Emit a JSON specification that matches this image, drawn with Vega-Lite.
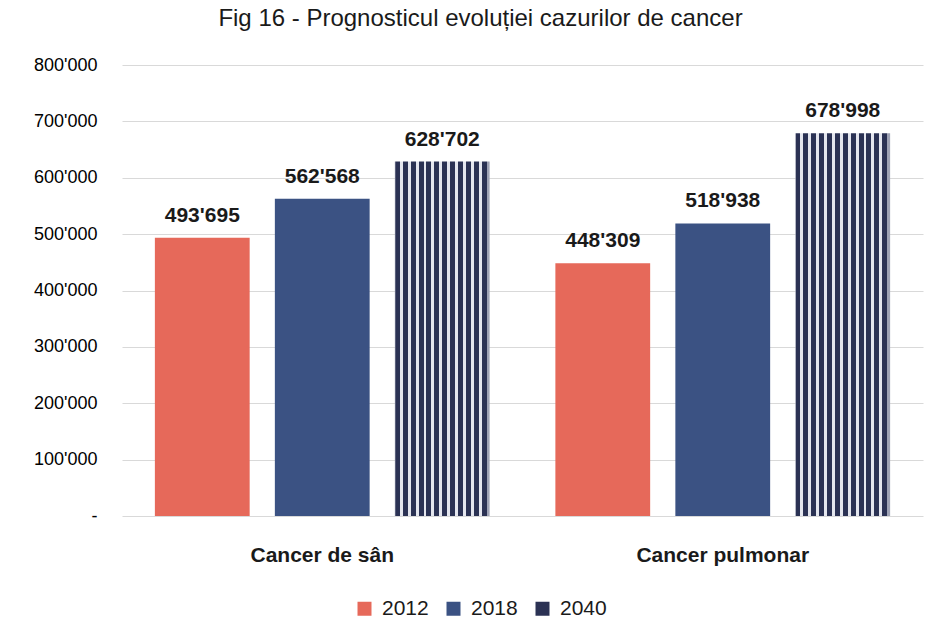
{
  "$schema": "https://vega.github.io/schema/vega-lite/v6.json",
  "autosize": {"type": "none"},
  "width": 801,
  "height": 451,
  "padding": {"left": 122, "top": 65, "right": 3, "bottom": 103},
  "background": "white",
  "title": {
    "text": "Fig 16 - Prognosticul evoluției cazurilor de cancer",
    "font": "Liberation Sans",
    "fontSize": 24,
    "fontWeight": "normal",
    "color": "#1a1a1a",
    "anchor": "middle",
    "baseline": "alphabetic",
    "offset": 6,
    "dx": -42
  },
  "data": {
    "values": [
      {"cat": "Cancer de sân", "year": "2012", "value": 493695},
      {"cat": "Cancer de sân", "year": "2018", "value": 562568},
      {"cat": "Cancer de sân", "year": "2040", "value": 628702},
      {"cat": "Cancer pulmonar", "year": "2012", "value": 448309},
      {"cat": "Cancer pulmonar", "year": "2018", "value": 518938},
      {"cat": "Cancer pulmonar", "year": "2040", "value": 678998}
    ]
  },
  "encoding": {
    "x": {
      "field": "cat",
      "type": "nominal",
      "sort": null,
      "scale": {"paddingInner": 0, "paddingOuter": 0},
      "axis": {
        "title": null,
        "labelAngle": 0,
        "domain": false,
        "ticks": false,
        "labelFont": "Liberation Sans",
        "labelFontSize": 21,
        "labelFontWeight": "bold",
        "labelColor": "#1a1a1a",
        "labelPadding": 28,
        "labelBaseline": "top"
      }
    },
    "xOffset": {
      "field": "year",
      "type": "nominal",
      "scale": {"paddingInner": 0.21, "paddingOuter": 0.274}
    },
    "y": {
      "field": "value",
      "type": "quantitative",
      "scale": {"domain": [0, 800000], "nice": false},
      "axis": {
        "title": null,
        "values": [0, 100000, 200000, 300000, 400000, 500000, 600000, 700000, 800000],
        "format": ",d",
        "labelExpr": "datum.value === 0 ? '-' : datum.label",
        "domain": false,
        "ticks": false,
        "gridColor": "#D9D9D9",
        "gridWidth": 1,
        "labelFont": "Liberation Sans",
        "labelFontSize": 18,
        "labelColor": "#000000",
        "labelPadding": 25
      }
    }
  },
  "layer": [
    {
      "mark": {"type": "bar"},
      "encoding": {
        "color": {
          "field": "year",
          "type": "nominal",
          "scale": {"domain": ["2012", "2018", "2040"], "range": ["#E6695A", "#3B5283", "#2B3254"]},
          "condition": {
            "test": "datum.year === '2040'",
            "value": {
              "gradient": "linear",
              "x1": 0, "y1": 0, "x2": 1, "y2": 0,
              "stops": [
                {"offset": 0, "color": "#9EA2B4"},
                {"offset": 0.012, "color": "#2B3254"},
                {"offset": 0.053, "color": "#2B3254"},
                {"offset": 0.053, "color": "#E4E6EE"},
                {"offset": 0.0833, "color": "#E4E6EE"},
                {"offset": 0.0833, "color": "#2B3254"},
                {"offset": 0.1367, "color": "#2B3254"},
                {"offset": 0.1367, "color": "#E4E6EE"},
                {"offset": 0.1667, "color": "#E4E6EE"},
                {"offset": 0.1667, "color": "#2B3254"},
                {"offset": 0.22, "color": "#2B3254"},
                {"offset": 0.22, "color": "#E4E6EE"},
                {"offset": 0.25, "color": "#E4E6EE"},
                {"offset": 0.25, "color": "#2B3254"},
                {"offset": 0.3033, "color": "#2B3254"},
                {"offset": 0.3033, "color": "#E4E6EE"},
                {"offset": 0.3333, "color": "#E4E6EE"},
                {"offset": 0.3333, "color": "#2B3254"},
                {"offset": 0.3867, "color": "#2B3254"},
                {"offset": 0.3867, "color": "#E4E6EE"},
                {"offset": 0.4167, "color": "#E4E6EE"},
                {"offset": 0.4167, "color": "#2B3254"},
                {"offset": 0.47, "color": "#2B3254"},
                {"offset": 0.47, "color": "#E4E6EE"},
                {"offset": 0.5, "color": "#E4E6EE"},
                {"offset": 0.5, "color": "#2B3254"},
                {"offset": 0.5533, "color": "#2B3254"},
                {"offset": 0.5533, "color": "#E4E6EE"},
                {"offset": 0.5833, "color": "#E4E6EE"},
                {"offset": 0.5833, "color": "#2B3254"},
                {"offset": 0.6367, "color": "#2B3254"},
                {"offset": 0.6367, "color": "#E4E6EE"},
                {"offset": 0.6667, "color": "#E4E6EE"},
                {"offset": 0.6667, "color": "#2B3254"},
                {"offset": 0.72, "color": "#2B3254"},
                {"offset": 0.72, "color": "#E4E6EE"},
                {"offset": 0.75, "color": "#E4E6EE"},
                {"offset": 0.75, "color": "#2B3254"},
                {"offset": 0.8033, "color": "#2B3254"},
                {"offset": 0.8033, "color": "#E4E6EE"},
                {"offset": 0.8333, "color": "#E4E6EE"},
                {"offset": 0.8333, "color": "#2B3254"},
                {"offset": 0.8867, "color": "#2B3254"},
                {"offset": 0.8867, "color": "#E4E6EE"},
                {"offset": 0.9167, "color": "#E4E6EE"},
                {"offset": 0.9167, "color": "#2B3254"},
                {"offset": 0.97, "color": "#2B3254"},
                {"offset": 0.97, "color": "#9EA2B4"},
                {"offset": 1, "color": "#9EA2B4"}
              ]
            }
          },
          "legend": {
            "title": null,
            "orient": "none",
            "direction": "horizontal",
            "legendX": 232,
            "legendY": 533,
            "padding": 0,
            "symbolType": "square",
            "symbolSize": 196,
            "symbolStrokeWidth": 0,
            "symbolOpacity": 1,
            "labelFont": "Liberation Sans",
            "labelFontSize": 21,
            "labelColor": "#1a1a1a",
            "labelOffset": 7,
            "columnPadding": 14
          }
        }
      }
    },
    {
      "mark": {
        "type": "text",
        "baseline": "alphabetic",
        "dy": -16,
        "font": "Liberation Sans",
        "fontSize": 21,
        "fontWeight": "bold",
        "color": "#1a1a1a"
      },
      "encoding": {
        "text": {"field": "value", "type": "quantitative", "format": ",d"}
      }
    }
  ],
  "config": {
    "locale": {
      "number": {"decimal": ".", "thousands": "'", "grouping": [3], "currency": ["", ""]}
    },
    "view": {"stroke": null}
  }
}
